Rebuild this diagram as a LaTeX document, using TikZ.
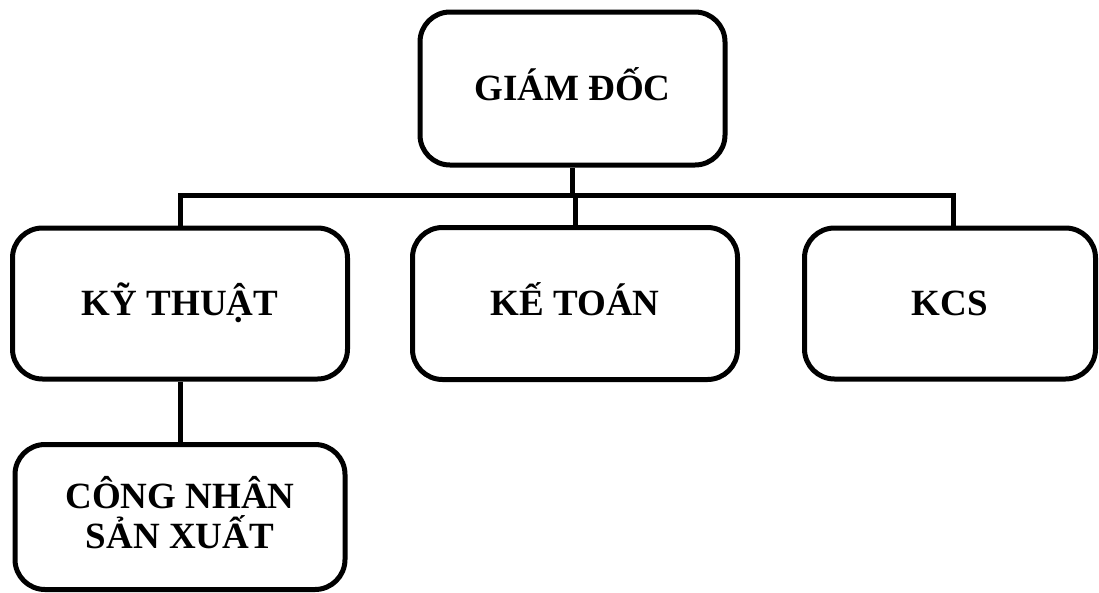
\documentclass[tikz,border=0pt]{standalone}
\usepackage{fontspec}
\setmainfont{Liberation Serif}
\begin{document}
\begin{tikzpicture}[x=1pt,y=-1pt,
  unit/.style={draw,line width=5pt,rounded corners=30pt,inner sep=0pt,
    font=\fontsize{37}{40}\selectfont\bfseries,align=center,
    text height=24.5pt,text depth=0pt},
  link/.style={line width=5pt}]
\useasboundingbox (0,0) rectangle (1099,592);
% boxes
\node[unit,minimum width=305pt,minimum height=153pt] (gd) at (572.5,88.5) {GIÁM ĐỐC};
\node[unit,minimum width=335pt,minimum height=151pt] (kt) at (180,303.5) {KỸ THUẬT};
\node[unit,minimum width=325pt,minimum height=152pt] (kto) at (575,303.5) {KẾ TOÁN};
\node[unit,minimum width=291pt,minimum height=151pt] (kcs) at (950,303.5) {KCS};
\node[unit,minimum width=330pt,minimum height=145pt,text height=63pt] (cn) at (180,517) {CÔNG NHÂN\\SẢN XUẤT};
% connectors
\coordinate (bus) at (0,195);
\coordinate (kcstop) at ([xshift=3pt]kcs.north);
\draw[link] (kt.north) |- (kcstop |- bus) -- (kcstop);
\draw[link] (gd.south) -- (gd.south |- bus);
\draw[link] (kto.north) -- (kto.north |- bus);
\draw[link] (kt.south) -- (cn.north);
\end{tikzpicture}
\end{document}
